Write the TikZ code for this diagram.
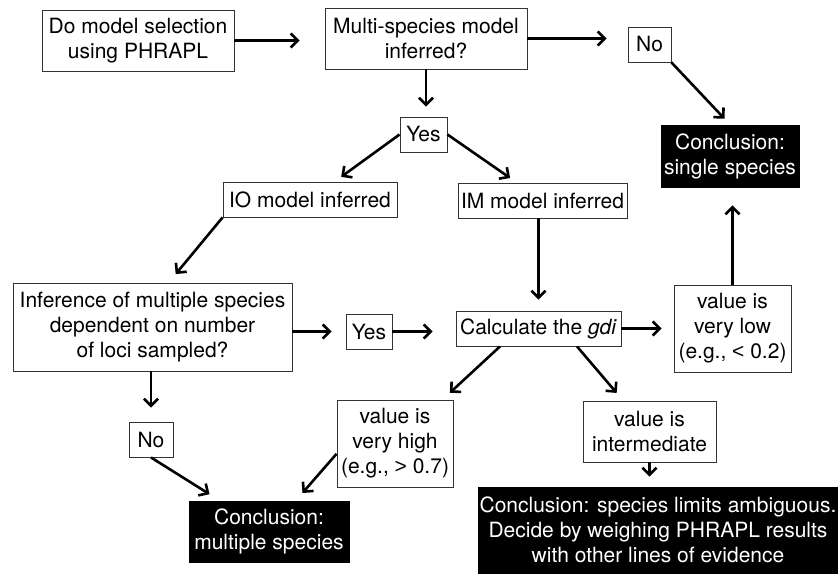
\documentclass[tikz,border=0pt]{standalone}
\usepackage{fontspec}
\setmainfont{TeX Gyre Heros}
\newfontfamily\relfont{Liberation Sans}
\usetikzlibrary{arrows.meta}
\begin{document}
\begin{tikzpicture}[x=1pt,y=-1pt,
  box/.style={draw=black!80,line width=0.9pt,align=center,inner sep=0pt,font=\fontsize{21}{25}\selectfont},
  darkbox/.style={box,draw=black,fill=black,text=white},
  arr/.style={line width=2.6pt,-{Straight Barb[length=7pt,width=14pt]},shorten >=#1},
  arr/.default=10pt]
\useasboundingbox (0,0) rectangle (838,573);
% first row
\node[box,minimum width=192pt,minimum height=61pt] (select) at (138,40.5) {Do model selection\\using PHRAPL};
\node[box,minimum width=202pt,minimum height=61pt] (multi) at (426,38.5) {Multi-species model\\inferred?};
\node[box,minimum width=43pt,minimum height=35pt] (no1) at (649.5,44.5) {No};
\node[darkbox,minimum width=138pt,minimum height=62pt] (single) at (730,156) {Conclusion:\\single species};
% which model
\node[box,minimum width=47pt,minimum height=35pt] (yes1) at (423.5,134.5) {Yes};
\node[box,minimum width=174pt,minimum height=35pt] (io) at (310,199.5) {IO model inferred};
\node[box,minimum width=169pt,minimum height=35pt] (im) at (542.5,200.5) {IM model inferred};
% middle row
\node[box,minimum width=279pt,minimum height=88pt] (depend) at (152.5,327) {Inference of multiple species\\dependent on number\\of loci sampled?};
\node[box,minimum width=46pt,minimum height=35pt] (yes2) at (369,331.5) {Yes};
\node[box,minimum width=165pt,minimum height=35pt] (gdi) at (538.5,328.5) {Calculate the \textit{gdi}};
\node[box,minimum width=117pt,minimum height=87pt] (low) at (732.5,328.5) {value is\\very low\\(e.g., {\relfont <} 0.2)};
% bottom
\node[box,minimum width=44pt,minimum height=35pt] (no2) at (151,439.5) {No};
\node[box,minimum width=116pt,minimum height=87pt] (high) at (395,443.5) {value is\\very high\\(e.g., {\relfont >} 0.7)};
\node[box,minimum width=133pt,minimum height=61pt] (mid) at (649.5,431.5) {value is\\intermediate};
\node[darkbox,minimum width=160pt,minimum height=61pt] (multiple) at (269,531.5) {Conclusion:\\multiple species};
\node[darkbox,minimum width=360pt,minimum height=86pt] (ambig) at (658,530) {Conclusion: species limits ambiguous.\\Decide by weighing PHRAPL results\\with other lines of evidence};
% arrows
\draw[arr=25pt] (select.east) -- (select.east -| multi.west);
\draw[arr=21pt] (multi.east) -- (multi.east -| no1.west);
\draw[arr=8pt] (no1.south east) -- (single.north);
\draw[arr] (multi.south) -- (multi.south |- yes1.north);
\draw[arr=8pt] (yes1.west) -- (io);
\draw[arr=8pt] (yes1.east) -- (im);
\draw[arr=11pt] (io.south west) -- (depend.70);
\draw[arr=11pt] (gdi.north |- im.south) -- (gdi.north);
\draw[arr=14pt] (depend.east |- yes2.west) -- (yes2.west);
\draw[arr=23pt] (yes2.east) -- (yes2.east -| gdi.west);
\draw[arr=12pt] (gdi.east) -- (gdi.east -| low.west);
\draw[arr=18pt] (low.north) -- (low.north |- single.south);
\draw[arr=14pt] (no2.north |- depend.south) -- (no2.north);
\draw[arr=12pt] (no2.south) -- (multiple);
\draw[arr] (gdi.205) -- (high);
\draw[arr] (gdi.335) -- (mid);
\draw[arr] (high.190) -- (multiple);
\draw[arr] (mid.south) -- (mid.south |- ambig.north);
\end{tikzpicture}
\end{document}
